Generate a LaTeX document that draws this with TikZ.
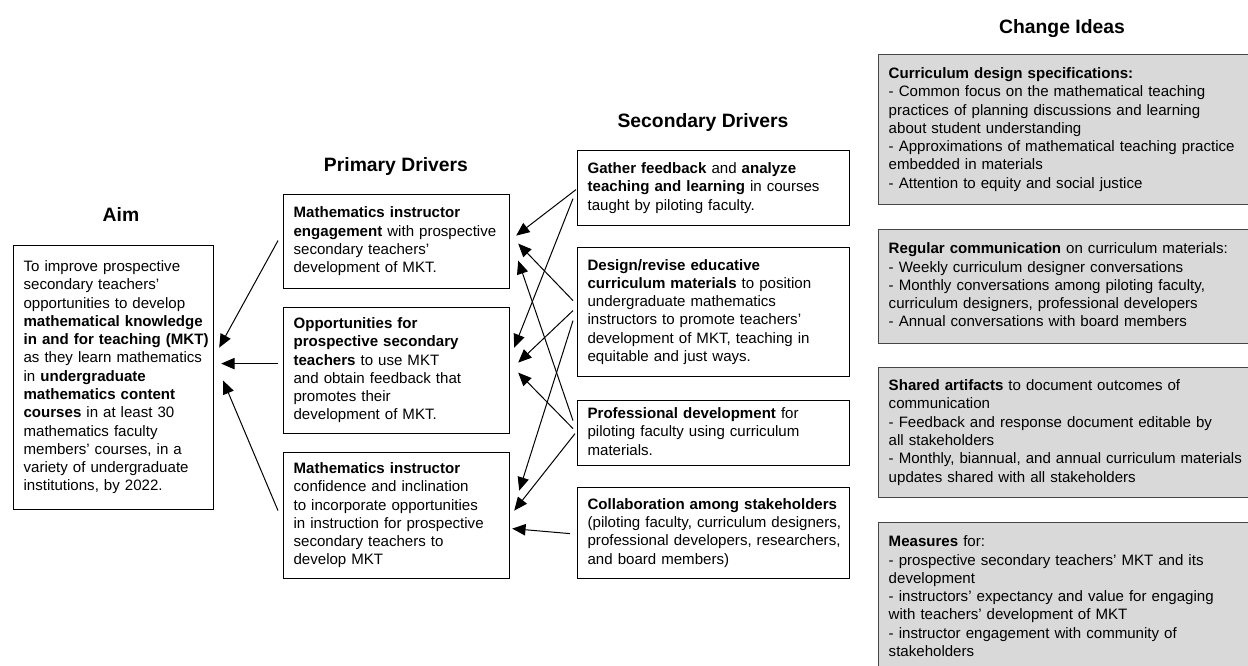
\documentclass[tikz,border=0pt]{standalone}
\usepackage{fontspec}
\setmainfont{Liberation Sans}
\usetikzlibrary{arrows.meta, calc}

\definecolor{ideagray}{RGB}{217,217,217}
\definecolor{idealine}{RGB}{70,70,70}

% one unbreakable block of lines per box
\newcommand{\lns}[1]{\begin{tabular}{@{}l@{}}#1\end{tabular}}

\tikzset{
    txt/.style={font=\fontsize{11.3}{13.7}\selectfont},
    head/.style={font=\bfseries\fontsize{14.5}{17}\selectfont, anchor=base},
    box/.style={txt, draw, line width=0.9pt, anchor=north west, align=left, inner xsep=7.5pt, inner ysep=2pt},
    aimbox/.style={box, text width=135pt, minimum height=198pt},
    prim/.style={box, text width=154.5pt},
    sec/.style={box, text width=189pt},
    idea/.style={box, fill=ideagray, draw=idealine, line width=1.1pt, text width=277.5pt},
    arr/.style={line width=0.75pt, -{Triangle[length=10pt, width=8.5pt]}}
}

\begin{document}
\begin{tikzpicture}[x=0.75pt, y=-0.75pt]
    \useasboundingbox (0,0) rectangle (1248,665);
    \clip (0,0) rectangle (1248,665);

    % headings
    \node[head] (haim) at (121,221.5) {Aim};
    \node[head] (hprim) at (396,171) {Primary Drivers};
    \node[head] (hsec) at (703,127) {Secondary Drivers};
    \node[head] (hidea) at (1062,33) {Change Ideas};

    % aim
    \node[aimbox] (aim) at (13,245) {\lns{To improve prospective\\
        secondary teachers'\\
        opportunities to develop\\
        \textbf{mathematical knowledge}\\
        \textbf{in and for teaching (MKT)}\\
        as they learn mathematics\\
        in \textbf{undergraduate}\\
        \textbf{mathematics content}\\
        \textbf{courses} in at least 30\\
        mathematics faculty\\
        members' courses, in a\\
        variety of undergraduate\\
        institutions, by 2022.}};

    % primary drivers
    \node[prim, minimum height=70.5pt] (p1) at (283,194) {\lns{\textbf{Mathematics instructor}\\
        \textbf{engagement} with prospective\\
        secondary teachers'\\
        development of MKT.}};
    \node[prim, minimum height=94.5pt] (p2) at (283,307) {\lns{\textbf{Opportunities for}\\
        \textbf{prospective secondary}\\
        \textbf{teachers} to use MKT\\
        and obtain feedback that\\
        promotes their\\
        development of MKT.}};
    \node[prim, minimum height=94.5pt] (p3) at (283,452) {\lns{\textbf{Mathematics instructor}\\
        confidence and inclination\\
        to incorporate opportunities\\
        in instruction for prospective\\
        secondary teachers to\\
        develop MKT}};

    % secondary drivers
    \node[sec, minimum height=56.25pt] (s1) at (577,150) {\lns{\textbf{Gather feedback} and \textbf{analyze}\\
        \textbf{teaching and learning} in courses\\
        taught by piloting faculty.}};
    \node[sec, minimum height=96.75pt] (s2) at (577,247) {\lns{\textbf{Design/revise educative}\\
        \textbf{curriculum materials} to position\\
        undergraduate mathematics\\
        instructors to promote teachers'\\
        development of MKT, teaching in\\
        equitable and just ways.}};
    \node[sec, minimum height=48.75pt] (s3) at (577,400) {\lns{\textbf{Professional development} for\\
        piloting faculty using curriculum\\
        materials.}};
    \node[sec, minimum height=68.25pt] (s4) at (577,487) {\lns{\textbf{Collaboration among stakeholders}\\
        (piloting faculty, curriculum designers,\\
        professional developers, researchers,\\
        and board members)}};

    % change ideas
    \node[idea, minimum height=112.5pt] (c1) at (878,54) {\lns{\textbf{Curriculum design specifications:}\\
        - Common focus on the mathematical teaching\\
        practices of planning discussions and learning\\
        about student understanding\\
        - Approximations of mathematical teaching practice\\
        embedded in materials\\
        - Attention to equity and social justice}};
    \node[idea, minimum height=85.5pt] (c2) at (878,229) {\lns{\textbf{Regular communication} on curriculum materials:\\
        - Weekly curriculum designer conversations\\
        - Monthly conversations among piloting faculty,\\
        curriculum designers, professional developers\\
        - Annual conversations with board members}};
    \node[idea, minimum height=97.5pt] (c3) at (878,367) {\lns{\textbf{Shared artifacts} to document outcomes of\\
        communication\\
        - Feedback and response document editable by\\
        all stakeholders\\
        - Monthly, biannual, and annual curriculum materials\\
        updates shared with all stakeholders}};
    \node[idea, minimum height=113pt] (c4) at (878,522) {\lns{\textbf{Measures} for:\\
        - prospective secondary teachers' MKT and its\\
        development\\
        - instructors' expectancy and value for engaging\\
        with teachers' development of MKT\\
        - instructor engagement with community of\\
        stakeholders}};

    \draw[every edge/.append style={arr}]
        ($(s1.west)+(-1,1.5)$) edge ($(p1.east)+(6,-6)$)
        ($(s1.west)+(-4,10.5)$) edge ($(p2.east)+(4,-23)$)
        ($(s2.west)+(-4,-11.5)$) edge ($(p1.east)+(8,2)$)
        ($(s2.west)+(-4,-1.5)$) edge ($(p2.east)+(8,-8)$)
        ($(s2.west)+(-4,8.5)$) edge ($(p3.east)+(9,-25)$)
        ($(s3.west)+(-4,-12.5)$) edge ($(p1.east)+(8,19)$)
        ($(s3.west)+(-4,-4.5)$) edge ($(p2.east)+(8,2)$)
        ($(s3.west)+(-2,0.5)$) edge ($(p3.east)+(4,-5)$)
        ($(s4.west)+(-7,0.5)$) edge ($(p3.east)+(2,13)$)
        ($(p1.west)+(-5,-1)$) edge ($(aim.east)+(5,-30)$)
        ($(p2.west)+(-5,-7)$) edge ($(aim.east)+(7,-14)$)
        ($(p3.west)+(-5,-5)$) edge ($(aim.east)+(9,3)$)
        ;
\end{tikzpicture}
\end{document}
